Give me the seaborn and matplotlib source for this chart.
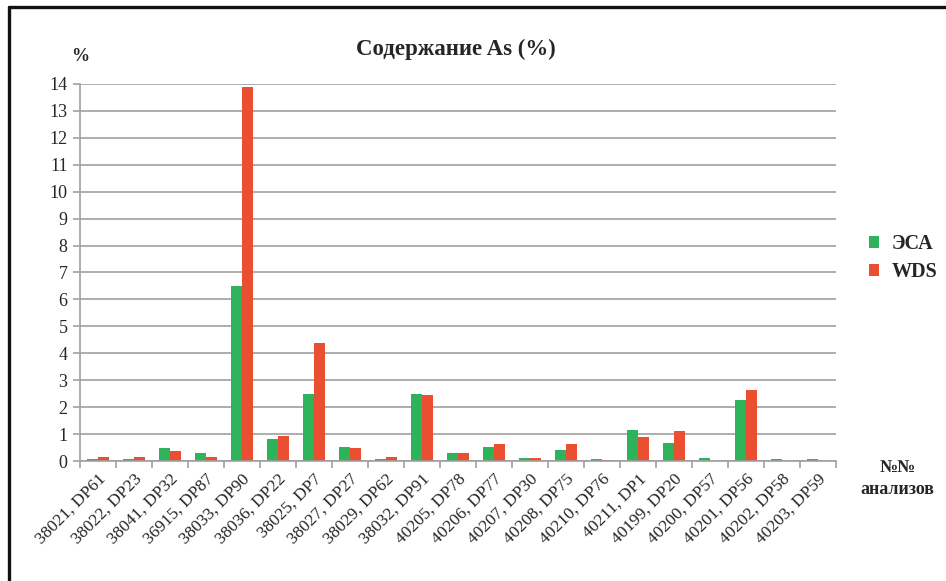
import matplotlib
matplotlib.use("Agg")
import matplotlib.pyplot as plt
from matplotlib.lines import Line2D
from matplotlib.patches import Patch
import seaborn as sns
import pandas as pd
import numpy as np

categories = ["38021, DP61", "38022, DP23", "38041, DP32", "36915, DP87", "38033, DP90",
              "38036, DP22", "38025, DP7", "38027, DP27", "38029, DP62", "38032, DP91",
              "40205, DP78", "40206, DP77", "40207, DP30", "40208, DP75", "40210, DP76",
              "40211, DP1", "40199, DP20", "40200, DP57", "40201, DP56", "40202, DP58",
              "40203, DP59"]
esa = [0.08, 0.06, 0.47, 0.31, 6.5, 0.81, 2.48, 0.53, 0.09, 2.48, 0.31,
       0.52, 0.12, 0.41, 0.09, 1.17, 0.67, 0.10, 2.28, 0.09, 0.09]
wds = [0.14, 0.14, 0.37, 0.14, 13.9, 0.93, 4.4, 0.48, 0.14, 2.46, 0.31,
       0.63, 0.11, 0.64, 0.04, 0.88, 1.10, 0.0, 2.62, 0.0, 0.0]
series_names = ["ЭСА", "WDS"]
colors = ["#2EB35C", "#E94F30"]
yticks = list(range(0, 15))

sns.set_theme(style="white")
plt.rcParams['font.family'] = ['Liberation Serif', 'DejaVu Serif']

df = pd.DataFrame({
    "cat": categories * 2,
    "val": esa + wds,
    "series": [series_names[0]] * len(categories) + [series_names[1]] * len(categories),
})

fig = plt.figure(figsize=(9.46, 5.81), dpi=100)
ax = fig.add_axes([0.0846, 0.2065, 0.7991, 0.649])

sns.barplot(data=df, x="cat", y="val", hue="series", palette=colors,
            order=categories, hue_order=series_names, width=0.6,
            linewidth=0, saturation=1, ax=ax, legend=False)

ax.set_ylim(0, 14)
ax.set_xlim(-0.5, len(categories) - 0.5)
ax.set_yticks(yticks)
ax.set_yticklabels([str(t) for t in yticks], fontsize=13)
ax.yaxis.grid(True, color="#A0A0A0", linewidth=1.2)
ax.set_axisbelow(True)
ax.set_xlabel("")
ax.set_ylabel("")

ax.set_xticks(range(len(categories)))
ax.set_xticklabels(categories, rotation=45, ha="right", rotation_mode="anchor", fontsize=12.5)
ax.set_xticks(np.arange(-0.5, len(categories), 1.0), minor=True)
ax.tick_params(axis="x", which="major", length=0, pad=7)
ax.tick_params(axis="x", which="minor", length=5, color="#A0A0A0", width=1.2, direction="out", bottom=True)
ax.tick_params(axis="y", length=5, color="#A0A0A0", width=1.2, direction="out", left=True, pad=4)

for s in ["top", "right"]:
    ax.spines[s].set_visible(False)
for s in ["left", "bottom"]:
    ax.spines[s].set_color("#A0A0A0")
    ax.spines[s].set_linewidth(1.2)

fig.text(0.482, 0.915, "Содержание As (%)", ha="center", va="center", fontsize=16.5, fontweight="bold")
fig.text(0.085, 0.902, "%", ha="center", va="center", fontsize=13, fontweight="bold")

handles = [Patch(facecolor=c, edgecolor="none") for c in colors]
fig.legend(handles, series_names, loc="center left", bbox_to_anchor=(0.919, 0.556),
           frameon=False, handlelength=0.5, handleheight=0.5, handletextpad=0.6,
           labelspacing=0.4, borderaxespad=0, borderpad=0,
           prop={"weight": "bold", "size": 14.5})

fig.text(0.949, 0.176, "№№\nанализов", ha="center", va="center", fontsize=13,
         fontweight="bold", linespacing=1.35)

fig.add_artist(Line2D([0.0095, 1.0], [0.988, 0.988], color="#111111", linewidth=2.4, transform=fig.transFigure))
fig.add_artist(Line2D([0.0095, 0.0095], [0.0, 0.988], color="#111111", linewidth=2.4, transform=fig.transFigure))

fig.savefig("out.png", dpi=100, facecolor="white")
